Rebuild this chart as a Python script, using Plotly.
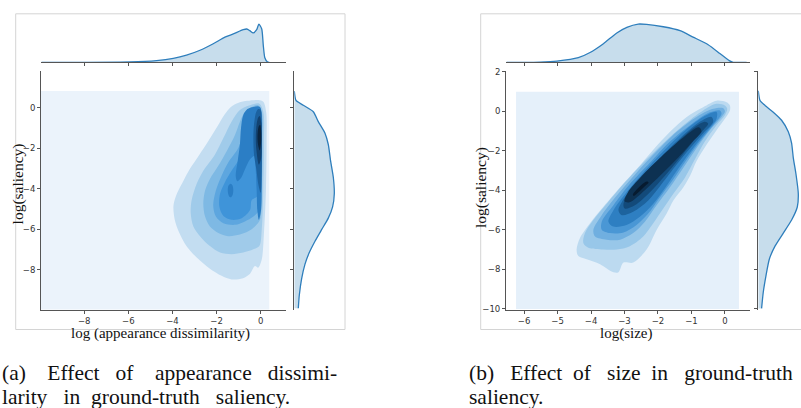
import plotly.graph_objects as go

# ---------------- data ----------------
# panel (a): log(appearance dissimilarity) vs log(saliency)
a_xticks = [-8, -6, -4, -2, 0]
a_yticks = [-8, -6, -4, -2, 0]
a_extent_x = [-10, 0.39]          # KDE grid extent (lowest shaded level)
a_extent_y = [-10, 0.83]

a_l1_x = [-0.1, -0.6, -1.0, -1.35, -1.65, -1.95, -2.35, -2.8, -3.2, -3.5, -3.78, -3.95, -3.9, -3.68, -3.35, -2.9, -2.3, -1.77, -1.32, -0.8, -0.48, -0.26, -0.11, 0.05, 0.15, 0.24, 0.27, 0.25, 0.12]
a_l1_y = [0.39, 0.35, 0.26, 0.05, -0.35, -0.9, -1.6, -2.35, -3.0, -3.6, -4.2, -4.8, -5.5, -6.2, -6.85, -7.4, -7.95, -8.3, -8.48, -8.42, -8.2, -7.82, -7.9, -7.5, -6.2, -4.1, -1.65, -0.2, 0.3]
a_l2_x = [-0.06, -0.56, -0.94, -1.32, -1.69, -2.07, -2.6, -2.9, -3.13, -3.17, -3.05, -2.75, -2.3, -1.84, -1.32, -0.79, -0.33, -0.06, 0.05, 0.12, 0.15, 0.12]
a_l2_y = [0.21, 0.1, -0.11, -0.68, -1.49, -2.3, -3.11, -3.75, -4.56, -5.21, -5.86, -6.34, -6.83, -7.15, -7.23, -7.15, -6.99, -6.83, -6.02, -4.08, -1.65, -0.19]
a_l3_x = [-0.11, -0.41, -0.71, -0.94, -1.16, -1.54, -1.92, -2.3, -2.52, -2.6, -2.52, -2.3, -1.92, -1.47, -0.94, -0.56, -0.26, -0.03, 0.05, 0.08, 0.05]
a_l3_y = [0.13, 0.05, -0.19, -0.68, -1.33, -2.14, -2.86, -3.51, -4.08, -4.72, -5.37, -5.86, -6.18, -6.34, -6.26, -6.1, -5.86, -5.53, -4.08, -1.65, -0.19]
a_l4_x = [-0.18, -0.48, -0.67, -0.79, -1.01, -1.47, -1.77, -2.03, -2.15, -2.03, -1.69, -1.16, -0.71, -0.33, -0.06, 0.02, 0.05, 0.02]
a_l4_y = [0.05, -0.11, -0.52, -1.17, -1.97, -2.7, -3.35, -4.08, -4.81, -5.37, -5.7, -5.78, -5.61, -5.37, -5.05, -4.08, -1.65, -0.19]
a_l5_x = [-0.26, -0.51, -0.6, -0.71, -0.94, -1.32, -1.62, -1.84, -1.87, -1.69, -1.32, -0.86, -0.48, -0.41, -0.18, -0.03, 0.0, -0.03]
a_l5_y = [-0.11, -0.28, -0.84, -1.65, -2.46, -3.11, -3.67, -4.24, -4.89, -5.34, -5.53, -5.45, -5.05, -4.56, -4.4, -4.08, -1.65, -0.19]
a_l6_x = [-0.6, -0.79, -0.89, -0.94, -1.04, -1.13, -1.06, -0.89, -0.71, -0.48, -0.29, -0.23, -0.18, -0.15, -0.08, 0.02, 0.05, 0.05, -0.03, -0.33]
a_l6_y = [-0.06, -0.36, -1.0, -1.81, -2.62, -3.35, -3.62, -3.46, -3.03, -2.54, -2.38, -2.95, -4.08, -5.05, -5.53, -5.05, -3.27, -0.84, 0.05, 0.05]
a_l6b_x = [-1.36, -1.46, -1.49, -1.44, -1.36, -1.27, -1.24, -1.28]
a_l6b_y = [-3.75, -3.85, -4.1, -4.35, -4.42, -4.3, -4.05, -3.82]
a_l7_x = [-0.2, -0.3, -0.33, -0.3, -0.2, -0.1, 0.0, 0.04, 0.06, 0.05, 0.0, -0.1]
a_l7_y = [-0.2, -0.8, -1.5, -2.3, -3.0, -3.8, -4.2, -3.5, -2.0, -0.6, -0.1, -0.05]
a_l8_x = [-0.12, -0.2, -0.22, -0.18, -0.08, 0.02, 0.04, 0.02, -0.04]
a_l8_y = [-0.5, -1.0, -1.6, -2.2, -2.8, -2.5, -1.5, -0.7, -0.4]
a_l9_x = [-0.08, -0.14, -0.12, -0.04, 0.02, 0.02, -0.02]
a_l9_y = [-0.9, -1.3, -1.8, -2.1, -1.7, -1.1, -0.85]

a_top_x = [-9.93, -8.05, -5.93, -4.72, -3.96, -3.36, -2.75, -2.15, -1.62, -1.24, -0.79, -0.63, -0.49, -0.34, -0.18, -0.08, 0.05, 0.12, 0.19, 0.3, 0.39]
a_top_d = [0.0, 0.0, 0.0033, 0.017, 0.04, 0.073, 0.123, 0.19, 0.257, 0.29, 0.333, 0.34, 0.323, 0.30, 0.333, 0.39, 0.34, 0.173, 0.047, 0.007, 0.0]
a_side_y = [0.83, 0.37, 0.13, -0.19, -0.68, -1.25, -1.81, -2.62, -3.43, -4.24, -4.89, -5.45, -6.02, -6.59, -7.15, -7.72, -8.45, -9.26, -9.9]
a_side_d = [0.0, 0.017, 0.09, 0.19, 0.24, 0.307, 0.34, 0.363, 0.39, 0.40, 0.383, 0.34, 0.273, 0.207, 0.15, 0.107, 0.073, 0.05, 0.04]

# panel (b): log(size) vs log(saliency)
b_xticks = [-6, -5, -4, -3, -2, -1, 0]
b_yticks = [-10, -8, -6, -4, -2, 0, 2]
b_extent_x = [-6.24, 0.42]
b_extent_y = [-10, 0.99]

b_l1_x = [0.05, -0.25, -0.65, -1.14, -1.64, -2.14, -2.64, -3.13, -3.63, -4.03, -4.33, -4.43, -4.38, -4.13, -3.73, -3.33, -3.18, -3.03, -2.74, -2.34, -2.04, -1.74, -1.54, -1.24, -1.04, -0.85, -0.55, -0.25, 0.0, 0.15, 0.15]
b_l1_y = [0.46, 0.54, 0.21, -0.28, -1.03, -1.94, -2.93, -3.84, -4.83, -5.66, -6.41, -6.99, -7.32, -7.48, -7.73, -8.14, -8.14, -7.65, -7.65, -6.99, -6.0, -5.17, -4.51, -3.84, -3.26, -2.52, -1.69, -0.95, -0.37, 0.05, 0.3]
b_l2_x = [0.0, -0.25, -0.65, -1.24, -1.84, -2.44, -3.03, -3.53, -3.93, -4.18, -4.23, -4.08, -3.63, -3.23, -2.84, -2.44, -2.14, -1.84, -1.54, -1.19, -0.9, -0.6, -0.25, 0.0, 0.07]
b_l2_y = [0.3, 0.38, 0.05, -0.7, -1.61, -2.6, -3.68, -4.67, -5.5, -6.16, -6.66, -6.9, -6.99, -6.99, -6.82, -6.33, -5.66, -4.92, -4.17, -3.34, -2.44, -1.53, -0.7, -0.2, 0.13]
b_l3_x = [-0.05, -0.35, -0.85, -1.44, -2.04, -2.64, -3.23, -3.68, -3.93, -3.88, -3.53, -3.13, -2.74, -2.39, -2.04, -1.64, -1.24, -0.85, -0.45, -0.1, 0.0]
b_l3_y = [0.16, 0.13, -0.28, -1.03, -2.02, -3.1, -4.26, -5.25, -5.99, -6.33, -6.49, -6.49, -6.16, -5.58, -4.75, -3.84, -2.85, -1.86, -0.95, -0.28, 0.0]
b_l4_x = [-0.15, -0.45, -1.04, -1.64, -2.24, -2.84, -3.33, -3.68, -3.68, -3.43, -3.03, -2.64, -2.29, -1.94, -1.54, -1.14, -0.75, -0.35, -0.1]
b_l4_y = [0.05, -0.05, -0.7, -1.53, -2.6, -3.68, -4.75, -5.58, -5.99, -6.16, -6.13, -5.75, -5.17, -4.34, -3.43, -2.44, -1.53, -0.7, -0.12]
b_l5_x = [-0.25, -0.65, -1.24, -1.84, -2.44, -2.94, -3.33, -3.48, -3.33, -2.94, -2.54, -2.14, -1.74, -1.34, -0.95, -0.55, -0.25]
b_l5_y = [-0.03, -0.28, -1.03, -2.02, -3.1, -4.09, -5.0, -5.58, -5.83, -5.75, -5.33, -4.67, -3.76, -2.77, -1.86, -1.03, -0.37]
b_l6_x = [-0.4, -0.75, -1.34, -1.94, -2.54, -2.99, -3.18, -3.08, -2.74, -2.29, -1.89, -1.44, -1.04, -0.65, -0.35]
b_l6_y = [-0.28, -0.53, -1.36, -2.35, -3.43, -4.34, -5.0, -5.25, -5.08, -4.51, -3.68, -2.69, -1.86, -1.11, -0.53]
b_l7_x = [-0.6, -0.95, -1.54, -2.14, -2.69, -3.03, -2.99, -2.69, -2.24, -1.79, -1.34, -0.95, -0.65, -0.5]
b_l7_y = [-0.53, -0.86, -1.77, -2.77, -3.84, -4.67, -4.92, -4.75, -4.09, -3.26, -2.35, -1.53, -0.95, -0.62]
b_l8_x = [-0.78, -1.3, -1.9, -2.5, -2.9, -3.0, -2.85, -2.4, -1.9, -1.4, -0.95, -0.7]
b_l8_y = [-0.8, -1.4, -2.3, -3.3, -4.1, -4.55, -4.6, -4.0, -3.2, -2.35, -1.5, -1.0]
b_l9_x = [-2.72, -2.6, -2.4, -2.28, -2.33, -2.48, -2.65, -2.75]
b_l9_y = [-4.28, -4.12, -3.8, -3.6, -3.55, -3.7, -3.98, -4.22]

b_top_x = [-6.52, -6.02, -5.52, -5.02, -4.38, -4.03, -3.63, -3.23, -2.93, -2.59, -2.34, -1.84, -1.34, -0.95, -0.5, -0.15, 0.13, 0.25, 0.65]
b_top_d = [0.0, 0.0, 0.003, 0.013, 0.047, 0.10, 0.19, 0.30, 0.357, 0.39, 0.387, 0.363, 0.323, 0.257, 0.18, 0.09, 0.017, 0.0, 0.0]
b_side_y = [1.04, 0.55, 0.3, -0.04, -0.45, -1.03, -1.61, -2.35, -3.18, -4.17, -4.84, -5.5, -6.16, -6.82, -7.48, -8.31, -9.14, -9.97]
b_side_d = [0.0, 0.017, 0.067, 0.15, 0.233, 0.30, 0.333, 0.35, 0.377, 0.40, 0.39, 0.333, 0.25, 0.167, 0.11, 0.077, 0.05, 0.033]

NB = "\u00a0"
caption_a = ["(a)" + NB * 4 + "Effect" + NB * 3 + "of" + NB * 4 + "appearance" + NB * 3 + "dissimi-",
             "larity" + NB * 3 + "in" + NB * 2 + "ground-truth" + NB * 3 + "saliency."]
caption_b = ["(b)" + NB * 3 + "Effect" + NB * 2 + "of" + NB * 3 + "size" + NB * 2 + "in" + NB * 3 + "ground-truth",
             "saliency."]

# ---------------- styling ----------------
W, H = 801, 408
A_COLORS = ["#EBF3FB", "#C3DDF1", "#A0CBEA", "#7EB9E4", "#5DA6DF", "#3F94D9", "#2B7EC5", "#1C62A0", "#124372", "#0A2540"]
B_COLORS = ["#E5F0FA", "#BCDAF0", "#98C7E9", "#70AFE0", "#4A97D5", "#2E7FC2", "#1D639E", "#134A7A", "#0D3152", "#071B30"]
LINE = "#2E7EBC"
FILL = "rgba(31,119,180,0.25)"
SPINE = "#555555"
SERIF = "Liberation Serif, DejaVu Serif, serif"
SANS = "DejaVu Sans, sans-serif"


def fx(p):
    return p / W


def fy(p):
    return 1 - p / H


def closed(xs, ys):
    return list(xs) + [xs[0]], list(ys) + [ys[0]]


fig = go.Figure()


def add_poly(xs, ys, color, xa, ya, smooth=True):
    cx, cy = closed(xs, ys)
    fig.add_trace(go.Scatter(x=cx, y=cy, mode="lines", fill="toself", fillcolor=color,
                             line=dict(width=0, color=color, shape="spline" if smooth else "linear", smoothing=0.9),
                             xaxis=xa, yaxis=ya, hoverinfo="skip", showlegend=False))


def add_rect(ex, ey, color, xa, ya):
    xs = [ex[0], ex[1], ex[1], ex[0]]
    ys = [ey[0], ey[0], ey[1], ey[1]]
    add_poly(xs, ys, color, xa, ya, smooth=False)


# panel a contours
add_rect(a_extent_x, a_extent_y, A_COLORS[0], "x", "y")
for i, (xs, ys) in enumerate([(a_l1_x, a_l1_y), (a_l2_x, a_l2_y), (a_l3_x, a_l3_y), (a_l4_x, a_l4_y),
                              (a_l5_x, a_l5_y), (a_l6_x, a_l6_y), (a_l7_x, a_l7_y), (a_l8_x, a_l8_y),
                              (a_l9_x, a_l9_y)]):
    add_poly(xs, ys, A_COLORS[i + 1], "x", "y")
    if i == 5:
        add_poly(a_l6b_x, a_l6b_y, A_COLORS[6], "x", "y")

# panel b contours
add_rect(b_extent_x, b_extent_y, B_COLORS[0], "x4", "y4")
for i, (xs, ys) in enumerate([(b_l1_x, b_l1_y), (b_l2_x, b_l2_y), (b_l3_x, b_l3_y), (b_l4_x, b_l4_y),
                              (b_l5_x, b_l5_y), (b_l6_x, b_l6_y), (b_l7_x, b_l7_y), (b_l8_x, b_l8_y),
                              (b_l9_x, b_l9_y)]):
    add_poly(xs, ys, B_COLORS[i + 1], "x4", "y4")

# marginals
for xs, ys, fillmode, xa, ya in [(a_top_x, a_top_d, "tozeroy", "x2", "y2"),
                                 (a_side_d, a_side_y, "tozerox", "x3", "y3"),
                                 (b_top_x, b_top_d, "tozeroy", "x5", "y5"),
                                 (b_side_d, b_side_y, "tozerox", "x6", "y6")]:
    fig.add_trace(go.Scatter(x=xs, y=ys, mode="lines", fill=fillmode, fillcolor=FILL,
                             line=dict(color=LINE, width=1.3, shape="spline", smoothing=0.6),
                             xaxis=xa, yaxis=ya, hoverinfo="skip", showlegend=False))

TICKFONT = dict(family=SANS, size=8.5, color="#333333")


def ax(domain, rng, tickvals=None, labels=True, line=True, anchor=None):
    d = dict(domain=domain, range=rng, showgrid=False, zeroline=False, fixedrange=True,
             showline=line, linecolor=SPINE, linewidth=1, tickfont=TICKFONT)
    if tickvals is not None:
        d.update(tickmode="array", tickvals=tickvals, ticks="outside", ticklen=3,
                 tickcolor=SPINE, tickwidth=1, showticklabels=labels)
    else:
        d.update(showticklabels=False, ticks="")
    if anchor:
        d["anchor"] = anchor
    return d


MAIN_Y = [fy(311.7), fy(68)]
TOP_Y = [fy(59.5), fy(10)]

layout = dict(
    width=W, height=H, margin=dict(l=0, r=0, t=0, b=0),
    paper_bgcolor="white", plot_bgcolor="rgba(0,0,0,0)", showlegend=False,
    # panel a
    xaxis=ax([fx(41), fx(286)], [-9.96, 1.15], a_xticks, anchor="y"),
    yaxis=ax(MAIN_Y, [-9.97, 1.84], a_yticks, anchor="x"),
    xaxis2=ax([fx(41), fx(286)], [-9.96, 1.15], a_xticks, labels=False, anchor="y2"),
    yaxis2=ax(TOP_Y, [0, 0.495], None, line=False, anchor="x2"),
    xaxis3=ax([fx(294.3), fx(343.8)], [0, 0.495], None, line=False, anchor="y3"),
    yaxis3=ax(MAIN_Y, [-9.97, 1.84], a_yticks, labels=False, anchor="x3"),
    # panel b
    xaxis4=ax([fx(506), fx(750)], [-6.54, 0.75], b_xticks, anchor="y4"),
    yaxis4=ax(MAIN_Y, [-10.03, 2.06], b_yticks, anchor="x4"),
    xaxis5=ax([fx(506), fx(750)], [-6.54, 0.75], b_xticks, labels=False, anchor="y5"),
    yaxis5=ax(TOP_Y, [0, 0.495], None, line=False, anchor="x5"),
    xaxis6=ax([fx(758.3), 1.0], [0, (801 - 758.3) / 100], None, line=False, anchor="y6"),
    yaxis6=ax(MAIN_Y, [-10.03, 2.06], b_yticks, labels=False, anchor="x6"),
)
fig.update_layout(**layout)

# outer frames of the two sub-figures
FRAME = dict(color="#D4D4D4", width=1)
fig.add_shape(type="rect", xref="paper", yref="paper", x0=fx(15.7), x1=fx(345), y0=fy(332), y1=fy(10),
              line=FRAME, layer="below")
fig.add_shape(type="rect", xref="paper", yref="paper", x0=fx(480.7), x1=1.05, y0=fy(332), y1=fy(10),
              line=FRAME, layer="below")

# axis titles
TITLE_X = dict(family=SERIF, size=15, color="#111111")
TITLE_Y = dict(family=SERIF, size=15.5, color="#111111")
fig.add_annotation(text="log(saliency)", xref="paper", yref="paper", x=fx(18), y=fy(184),
                   textangle=-90, showarrow=False, font=TITLE_Y, xanchor="center", yanchor="middle")
fig.add_annotation(text="log (appearance dissimilarity)", xref="paper", yref="paper", x=fx(160), y=fy(326),
                   showarrow=False, font=TITLE_X, xanchor="center", yanchor="top", borderpad=0)
fig.add_annotation(text="log(saliency)", xref="paper", yref="paper", x=fx(481.7), y=fy(187),
                   textangle=-90, showarrow=False, font=TITLE_Y, xanchor="center", yanchor="middle")
fig.add_annotation(text="log(size)", xref="paper", yref="paper", x=fx(626), y=fy(326),
                   showarrow=False, font=TITLE_X, xanchor="center", yanchor="top", borderpad=0)

# captions
CAP = dict(family=SERIF, size=21.5, color="#111111")
CAP_Y = [376.5, 400.5]
for t, yy in zip(caption_a, CAP_Y):
    fig.add_annotation(text=t, xref="paper", yref="paper", x=fx(1), y=fy(yy),
                       showarrow=False, font=CAP, xanchor="left", yanchor="middle", borderpad=0)
for t, yy in zip(caption_b, CAP_Y):
    fig.add_annotation(text=t, xref="paper", yref="paper", x=fx(468), y=fy(yy),
                       showarrow=False, font=CAP, xanchor="left", yanchor="middle", borderpad=0)

fig.write_html("out.html", config={"displayModeBar": False, "staticPlot": True},
               post_script="document.body.style.margin='0';document.body.style.overflow='hidden';"
                           "document.documentElement.style.overflow='hidden';")
